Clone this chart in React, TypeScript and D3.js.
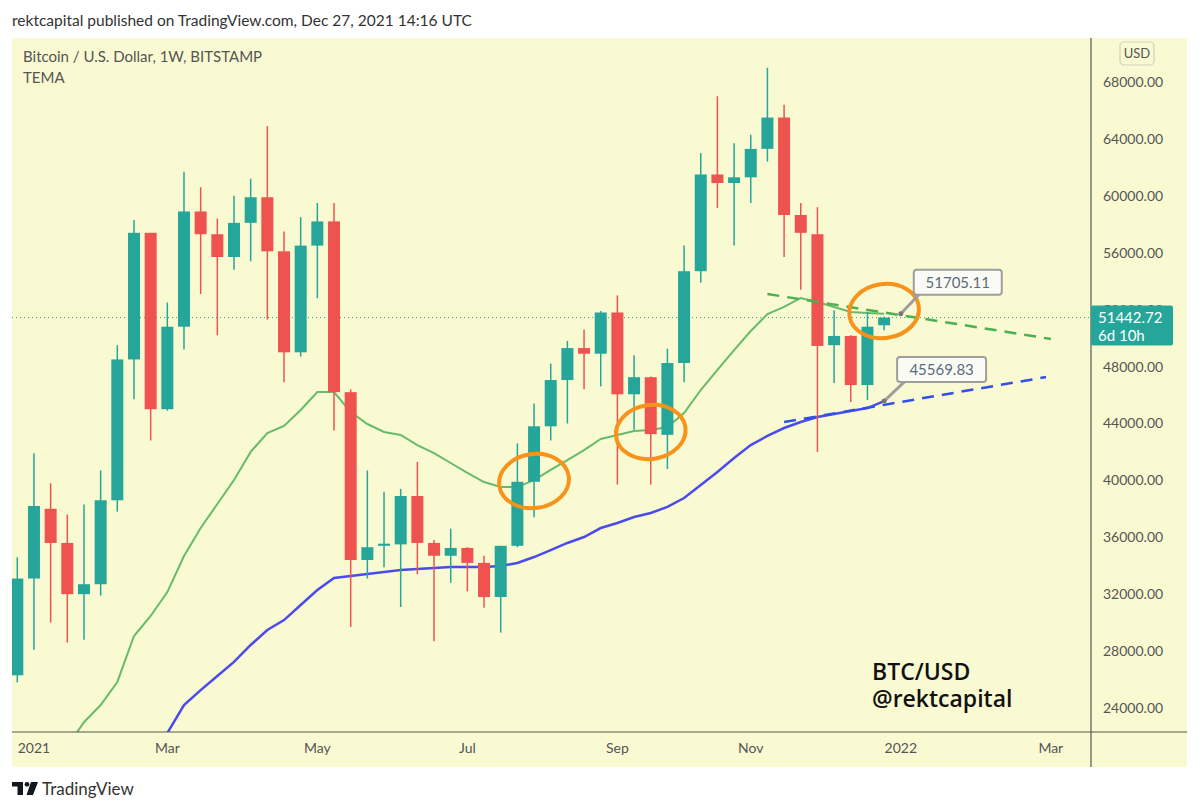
import React from "react";
import * as d3 from "d3";

// ---- Data ----
const weeks = [
  "2020-12-28", "2021-01-04", "2021-01-11", "2021-01-18", "2021-01-25", "2021-02-01", "2021-02-08",
  "2021-02-15", "2021-02-22", "2021-03-01", "2021-03-08", "2021-03-15", "2021-03-22", "2021-03-29",
  "2021-04-05", "2021-04-12", "2021-04-19", "2021-04-26", "2021-05-03", "2021-05-10", "2021-05-17",
  "2021-05-24", "2021-05-31", "2021-06-07", "2021-06-14", "2021-06-21", "2021-06-28", "2021-07-05",
  "2021-07-12", "2021-07-19", "2021-07-26", "2021-08-02", "2021-08-09", "2021-08-16", "2021-08-23",
  "2021-08-30", "2021-09-06", "2021-09-13", "2021-09-20", "2021-09-27", "2021-10-04", "2021-10-11",
  "2021-10-18", "2021-10-25", "2021-11-01", "2021-11-08", "2021-11-15", "2021-11-22", "2021-11-29",
  "2021-12-06", "2021-12-13", "2021-12-20", "2021-12-27",
];
const opens = [
  26300, 33100, 38000, 35600, 32000, 32700, 38600, 48500, 57400, 45000, 50800, 58900, 57300, 55700,
  58100, 59900, 56100, 49000, 56500, 58200, 46200, 34400, 35400, 35500, 38900, 35600, 34700, 35250,
  34200, 31800, 35400, 39900, 43800, 47050, 49300, 48900, 51800, 46050, 47250, 43200, 48250, 54700,
  61500, 60900, 61300, 63300, 65500, 58650, 57300, 49500, 50150, 46700, 50900,
];
const highs = [
  34600, 41900, 39800, 37600, 38300, 40700, 49500, 58300, 57400, 52500, 61700, 60600, 58400, 60000,
  61200, 64900, 57500, 58500, 59500, 59500, 46400, 40700, 39200, 39400, 41300, 35800, 36600, 35300,
  34700, 35400, 42600, 45400, 48200, 49800, 50600, 51900, 53000, 48800, 47300, 49250, 56500, 63000,
  67000, 63700, 64300, 69000, 66400, 59500, 59200, 51950, 50200, 51850, 51500,
];
const lows = [
  25800, 28100, 30000, 28600, 28800, 31900, 37800, 45700, 42800, 44900, 49200, 53100, 50200, 54800,
  55400, 51300, 46900, 48700, 52800, 43500, 29700, 33100, 33900, 31100, 33400, 28700, 32800, 32200,
  31050, 29300, 35300, 37400, 42800, 44000, 46400, 46600, 39700, 43550, 39700, 40800, 46900, 53900,
  59150, 56500, 59500, 62400, 55700, 53400, 42000, 46850, 45500, 45650, 50550,
];
const closes = [
  33100, 38200, 35600, 32000, 32700, 38600, 48500, 57400, 45000, 50800, 58900, 57300, 55700, 58100,
  59900, 56100, 49000, 56500, 58200, 46200, 34400, 35300, 35550, 38900, 35600, 34700, 35250, 34200,
  31800, 35400, 39900, 43800, 47050, 49300, 48900, 51800, 46050, 47250, 43250, 48250, 54700, 61500,
  60900, 61300, 63300, 65500, 58650, 57400, 49450, 50150, 46700, 50800, 51442.72,
];
const temaFast: (number | null)[] = [
  null, null, null, 21300, 23000, 24210, 25830, 29060, 30470, 32150, 34680, 36650, 38340, 40020,
  42000, 43330, 43820, 44950, 46210, 46210, 44800, 43960, 43400, 43190, 42480, 41920, 41220, 40520,
  39880, 39530, 39530, 40020, 40730, 41430, 42130, 42910, 43190, 43470, 43540, 43750, 44730, 46350,
  47760, 49160, 50500, 51690, 52190, 52820, 52540, 52190, 51830, 51760, 51705.11,
];
const temaSlow: (number | null)[] = [
  null, null, null, null, null, null, null, null, 21050, 22240, 24210, 25260, 26250, 27240,
  28430, 29480, 30180, 31240, 32290, 33140, 33280, 33420, 33560, 33700, 33770, 33840, 33910, 33910,
  33910, 33980, 34190, 34610, 35100, 35600, 36020, 36650, 37000, 37420, 37710, 38130, 38760, 39670,
  40590, 41570, 42480, 43120, 43680, 44100, 44450, 44660, 44870, 45080, 45569.83,
];
const yTicks = [24000, 28000, 32000, 36000, 40000, 44000, 48000, 52000, 56000, 60000, 64000, 68000];
const xTickDates = ["2021-01-04", "2021-03-01", "2021-05-03", "2021-07-05", "2021-09-06", "2021-11-01", "2022-01-03", "2022-03-07"];
const xTickLabels = ["2021", "Mar", "May", "Jul", "Sep", "Nov", "2022", "Mar"];
const lastPrice = 51442.72;
const countdown = "6d 10h";
const fastLabelDate = "2022-01-03";
const fastLabelValue = 51705.11;
const slowLabelDate = "2021-12-27";
const slowLabelValue = 45569.83;
const trendFastDates = ["2021-11-08", "2022-03-07"];
const trendFastValues = [53100, 49940];
const trendSlowDates = ["2021-11-15", "2022-03-05"];
const trendSlowValues = [44100, 47260];
const circleDates = ["2021-08-02", "2021-09-20", "2021-12-27"];
const circleValues = [39950, 43400, 51900];

const parse = (s: string) => new Date(s + "T00:00:00Z");
const FONT = "Lato, 'DejaVu Sans', sans-serif";

export default function App() {
  const W = 1200, H = 811;
  const panel = { x0: 12, y0: 38, x1: 1187, y1: 767 };
  const plotR = 1091, plotB = 732;

  const x = d3.scaleUtc().domain([parse("2020-12-28"), parse("2022-03-07")]).range([17.3, 1050.8]);
  const y = d3.scaleLinear().domain([24000, 68000]).range([708, 82]);
  const xi = (i: number) => x(parse(weeks[i]));

  const lineGen = d3
    .line<number | null>()
    .defined((d) => d != null)
    .x((_d, i) => xi(i))
    .y((d) => y(d as number));

  const trendGen = (dates: string[], vals: number[]) =>
    d3.line<number>().x((_d, i) => x(parse(dates[i]))).y((d) => y(d))(vals) || "";

  const teal = "#26a69a";
  const red = "#ef5350";
  const bodyW = 12;

  const fx = x(parse(fastLabelDate)), fy = y(fastLabelValue);
  const sx = x(parse(slowLabelDate)), sy = y(slowLabelValue);
  const py = y(lastPrice);

  return (
    <svg width={W} height={H} style={{ position: "absolute", left: 0, top: 0, background: "#ffffff" }} fontFamily={FONT}>
      <defs>
        <clipPath id="plotClip">
          <rect x={panel.x0} y={panel.y0} width={plotR - panel.x0} height={plotB - panel.y0} />
        </clipPath>
      </defs>
      <rect x={0} y={0} width={W} height={H} fill="#ffffff" />
      <text x={12} y={26} fontSize={15.5} fill="#333">rektcapital published on TradingView.com, Dec 27, 2021 14:16 UTC</text>

      <rect x={panel.x0} y={panel.y0} width={panel.x1 - panel.x0} height={panel.y1 - panel.y0} fill="#fafad2" />

      <text x={23} y={62} fontSize={15} fill="#555">Bitcoin / U.S. Dollar, 1W, BITSTAMP</text>
      <text x={23} y={83} fontSize={15} fill="#555">TEMA</text>

      <g clipPath="url(#plotClip)">
        {/* last price dotted line */}
        <line x1={panel.x0} x2={plotR} y1={py} y2={py} stroke={teal} strokeWidth={1} strokeDasharray="1,3" />

        {/* TEMA lines */}
        <path d={lineGen(temaSlow) || ""} fill="none" stroke="#4b4bec" strokeWidth={2.5} />
        <path d={lineGen(temaFast) || ""} fill="none" stroke="#66bb6a" strokeWidth={2} />

        {/* candles */}
        {weeks.map((w, i) => {
          const up = closes[i] >= opens[i];
          const c = up ? teal : red;
          const cx = xi(i);
          const top = y(Math.max(opens[i], closes[i]));
          const bot = y(Math.min(opens[i], closes[i]));
          return (
            <g key={w}>
              <line x1={cx} x2={cx} y1={y(highs[i])} y2={y(lows[i])} stroke={c} strokeWidth={1.5} />
              <rect x={cx - bodyW / 2} y={top} width={bodyW} height={Math.max(2, bot - top)} fill={c} />
            </g>
          );
        })}

        {/* dashed trend lines */}
        <path d={trendGen(trendFastDates, trendFastValues)} fill="none" stroke="#4caf50" strokeWidth={2.5} strokeDasharray="12,8" />
        <path d={trendGen(trendSlowDates, trendSlowValues)} fill="none" stroke="#3050e8" strokeWidth={2.5} strokeDasharray="12,8" />

        {/* orange highlight ellipses */}
        {circleDates.map((d, i) => (
          <ellipse
            key={d}
            cx={x(parse(d))}
            cy={y(circleValues[i])}
            rx={35}
            ry={27}
            transform={`rotate(-8 ${x(parse(d))} ${y(circleValues[i])})`}
            fill="none"
            stroke="#f7931a"
            strokeWidth={4}
          />
        ))}

        {/* callout: fast */}
        <line x1={fx} y1={fy} x2={fx + 18} y2={fy - 19} stroke="#9e9e9e" strokeWidth={3} />
        <circle cx={fx} cy={fy} r={2.5} fill="#777" />
        <rect x={fx + 13} y={fy - 44} width={88} height={25} rx={3} fill="#fbfbf5" stroke="#9e9e9e" strokeWidth={2} />
        <text x={fx + 57} y={fy - 26} fontSize={15} fill="#5b6b7a" textAnchor="middle">{fastLabelValue.toFixed(2)}</text>

        {/* callout: slow */}
        <line x1={sx} y1={sy} x2={sx + 21} y2={sy - 20} stroke="#9e9e9e" strokeWidth={3} />
        <circle cx={sx} cy={sy} r={2.5} fill="#777" />
        <rect x={sx + 13} y={sy - 44} width={89} height={25} rx={3} fill="#fbfbf5" stroke="#9e9e9e" strokeWidth={2} />
        <text x={sx + 57.5} y={sy - 26} fontSize={15} fill="#5b6b7a" textAnchor="middle">{slowLabelValue.toFixed(2)}</text>
      </g>

      {/* watermark text */}
      <text x={872} y={680} fontSize={23} fontWeight={600} fill="#111" fontFamily="'Open Sans', sans-serif">BTC/USD</text>
      <text x={872} y={707} fontSize={23} fontWeight={600} fill="#111" fontFamily="'Open Sans', sans-serif">@rektcapital</text>

      {/* axes */}
      <line x1={plotR} x2={plotR} y1={panel.y0} y2={panel.y1} stroke="#555" strokeWidth={1.2} />
      <line x1={panel.x0} x2={panel.x1} y1={plotB} y2={plotB} stroke="#555" strokeWidth={1.2} />

      {yTicks.map((t) => (
        <text key={t} x={1103} y={y(t) + 5} fontSize={14} fill="#555">{t.toFixed(2)}</text>
      ))}
      {xTickDates.map((d, i) => (
        <text key={d + i} x={x(parse(d))} y={753} fontSize={14} fill="#555" textAnchor="middle">{xTickLabels[i]}</text>
      ))}

      {/* USD box */}
      <rect x={1120} y={42} width={34} height={23} rx={4} fill="none" stroke="#cfcfc0" strokeWidth={1.2} />
      <text x={1137} y={58} fontSize={13} fill="#555" textAnchor="middle">USD</text>

      {/* last price label */}
      <rect x={plotR} y={py - 12} width={82} height={40} rx={2} fill={teal} />
      <text x={1098} y={py + 5} fontSize={15} fill="#ffffff">{lastPrice.toFixed(2)}</text>
      <text x={1098} y={py + 23} fontSize={15} fill="#ffffff">{countdown}</text>

      {/* TradingView logo */}
      <g fill="#131722">
        <rect x={12} y={782} width={11} height={4.5} />
        <rect x={17.5} y={782} width={5.5} height={13} />
        <circle cx={27} cy={784.3} r={2.4} />
        <path d="M31 782 L38 782 L33 795 L26.5 795 Z" />
      </g>
      <text x={42} y={795} fontSize={17} fill="#333">TradingView</text>
    </svg>
  );
}
